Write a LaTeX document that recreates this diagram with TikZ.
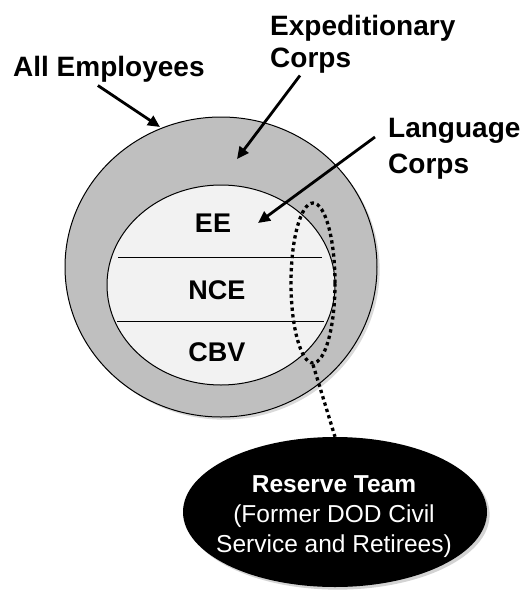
\documentclass[tikz,border=0pt]{standalone}
\usepackage{fontspec}
\setmainfont{Liberation Sans}
\usetikzlibrary{arrows.meta, shapes.geometric, shadows}
\definecolor{ringgray}{HTML}{BFBFBF}
\definecolor{corefill}{HTML}{F2F2F2}

\begin{document}
\begin{tikzpicture}[x=1pt, y=-1pt,
    callout/.style={font=\fontsize{28}{32}\selectfont\bfseries, align=left, anchor=north west, inner sep=0pt},
    tier/.style={font=\fontsize{27}{32}\selectfont\bfseries, inner sep=0pt},
    pointer/.style={line width=2.8pt, -{Triangle[length=12pt, width=11pt]}},
    dots/.style={line width=3.3pt, dash pattern=on 3.3pt off 3.3pt}]
    \useasboundingbox (0,0) rectangle (527,590);

    % outer ring
    \node[ellipse, draw, line width=1pt, fill=ringgray, minimum width=312pt, minimum height=300pt,
          drop shadow={opacity=0.3}] (ring) at (221,267) {};

    % inner core
    \node[ellipse, draw, line width=1pt, fill=corefill, minimum width=228pt, minimum height=200pt] (core) at (221,285) {};
    \draw[line width=1pt] (118,257) -- (322,257);
    \draw[line width=1pt] (117,321) -- (324,321);

    % tiers
    \foreach \name/\xpos/\ypos/\txt in {ee/213/223/EE, nce/217/290/NCE, cbv/217/352/CBV} {
        \node[tier] (\name) at (\xpos,\ypos) {\txt};
    }

    % labels
    \node[callout] (allemp) at (13,56) {All Employees};
    \node[callout] (expcorps) at (270,15) {Expeditionary\\Corps};
    \node[callout, font=\fontsize{28}{36}\selectfont\bfseries] (langcorps) at (388,118) {Language\\Corps};

    % arrows
    \coordinate (tipall) at (160,127);
    \coordinate (tipexp) at (237,159);
    \coordinate (tiplang) at (258,223);
    \draw[pointer] ([shift={(-11,3)}]allemp.south) -- (tipall);
    \draw[pointer] ([shift={(30,2)}]expcorps.south west) -- (tipexp);
    \draw[pointer] ([shift={(-13,19)}]langcorps.north west) -- (tiplang);

    % reserve team
    \node[ellipse, dots, draw, minimum width=44pt, minimum height=160pt, inner sep=0pt] (loop) at (313,283) {};
    \node[ellipse, fill=black, minimum width=304pt, minimum height=150pt,
          drop shadow={opacity=0.35}] (reserve) at (335,512) {};
    \node[text=white, align=center, font=\fontsize{24.5}{30}\selectfont, inner sep=0pt] (reservetxt) at (334,517)
        {\textbf{Reserve Team}\\(Former DOD Civil\\Service and Retirees)};
    \draw[dots] (loop.south) -- (reserve.north);
\end{tikzpicture}
\end{document}
